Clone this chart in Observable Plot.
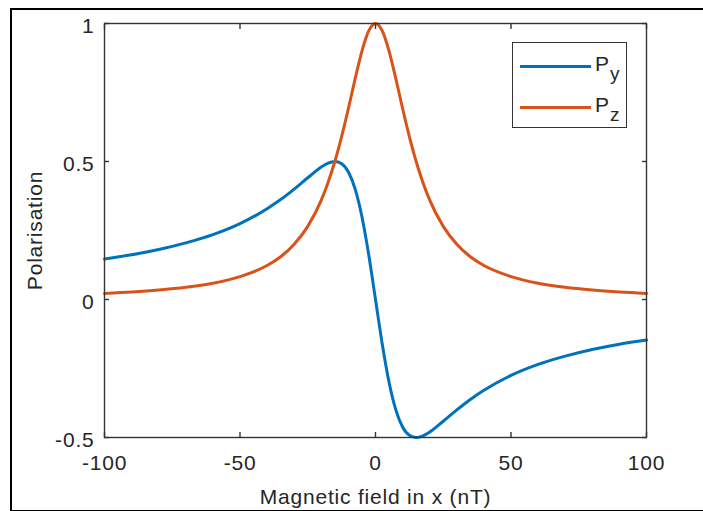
<!DOCTYPE html>
<html>
<head>
<meta charset="utf-8">
<script src="https://cdn.jsdelivr.net/npm/d3@7"></script>
<script src="https://cdn.jsdelivr.net/npm/@observablehq/plot@0.6"></script>
<style>
  html, body { margin: 0; padding: 0; background: #fff; }
  #wrap { position: relative; width: 703px; height: 511px; overflow: hidden; font-family: "Liberation Sans", Arial, sans-serif; color: #262626; }
  #outer { position: absolute; left: 10px; top: 8px; width: 740px; height: 500px; border: 2px solid #000; pointer-events: none; }
  #legend { position: absolute; left: 512px; top: 42px; width: 113px; height: 84px; border: 1.3px solid #333; background: #fff; }
  #legend .ln { position: absolute; left: 7px; width: 71px; height: 3px; }
  #legend .t { position: absolute; font-size: 21px; line-height: 21px; white-space: nowrap; }
  #legend .s { position: absolute; font-size: 19px; line-height: 19px; white-space: nowrap; }
  #chart svg text { letter-spacing: 0.8px; }
</style>
</head>
<body>
<div id="wrap">
  <div id="chart"></div>
  <div id="legend"></div>
  <div id="outer"></div>
</div>
<script>
// Magnetic field in x (nT)
const xs = [-100,-90,-80,-70,-60,-50,-40,-35,-30,-25,-20,-17.5,-15,-12.5,-10,-7.5,-5,-2.5,0,2.5,5,7.5,10,12.5,15,17.5,20,25,30,35,40,50,60,70,80,90,100];
// P_y polarisation
const py = [0.147,0.162,0.181,0.205,0.235,0.275,0.329,0.362,0.400,0.441,0.480,0.494,0.500,0.492,0.462,0.400,0.300,0.162,0,-0.162,-0.300,-0.400,-0.462,-0.492,-0.500,-0.494,-0.480,-0.441,-0.400,-0.362,-0.329,-0.275,-0.235,-0.205,-0.181,-0.162,-0.147];
// P_z polarisation
const pz = [0.022,0.027,0.034,0.044,0.059,0.083,0.123,0.155,0.200,0.265,0.360,0.424,0.500,0.590,0.692,0.800,0.900,0.973,1,0.973,0.900,0.800,0.692,0.590,0.500,0.424,0.360,0.265,0.200,0.155,0.123,0.083,0.059,0.044,0.034,0.027,0.022];
const xTicks = [-100,-50,0,50,100];
const yTicks = [-0.5,0,0.5,1];
const seriesNames = ["Py","Pz"];
const seriesColors = ["#0072BD","#D95319"];
const xLabel = "Magnetic field in x (nT)";
const yLabel = "Polarisation";

const rows = [];
xs.forEach((x, i) => {
  rows.push({x, y: py[i], s: seriesNames[0]});
  rows.push({x, y: pz[i], s: seriesNames[1]});
});

const axisColor = "#333";
const fmt = d => String(d);

const plot = Plot.plot({
  width: 703,
  height: 511,
  marginLeft: 104,
  marginTop: 23,
  marginRight: 57,
  marginBottom: 74,
  style: { fontFamily: '"Liberation Sans", Arial, sans-serif', fontSize: "21px", color: "#262626", background: "#fff" },
  x: { domain: [-100, 100] },
  y: { domain: [-0.5, 1] },
  color: { domain: seriesNames, range: seriesColors },
  marks: [
    Plot.line(rows, { x: "x", y: "y", z: "s", stroke: "s", strokeWidth: 3, curve: "monotone-x" }),
    Plot.frame({ stroke: axisColor, strokeWidth: 1.4 }),
    // labels
    Plot.axisX(xTicks, { anchor: "bottom", tickSize: 0, tickPadding: 18, tickFormat: fmt, label: null, fontSize: 21, fill: "#262626" }),
    Plot.axisY(yTicks, { anchor: "left", tickSize: 0, tickPadding: 10, tickFormat: fmt, label: null, fontSize: 21, fill: "#262626", dy: 3 }),
    // inward tick marks on all four sides
    Plot.axisX(xTicks, { anchor: "bottom", tickSize: 5, dy: -5, fill: "none", label: null, stroke: axisColor, strokeWidth: 1.4 }),
    Plot.axisX(xTicks, { anchor: "top", tickSize: 5, dy: 5, fill: "none", label: null, stroke: axisColor, strokeWidth: 1.4 }),
    Plot.axisY(yTicks, { anchor: "left", tickSize: 5, dx: 5, fill: "none", label: null, stroke: axisColor, strokeWidth: 1.4 }),
    Plot.axisY(yTicks, { anchor: "right", tickSize: 5, dx: -5, fill: "none", label: null, stroke: axisColor, strokeWidth: 1.4 }),
    // axis titles
    Plot.text([xLabel], { text: d => d, frameAnchor: "bottom", textAnchor: "middle", lineAnchor: "middle", dy: 60, fontSize: 21, fill: "#262626" }),
    Plot.text([yLabel], { text: d => d, frameAnchor: "left", textAnchor: "middle", lineAnchor: "middle", rotate: -90, dx: -69, fontSize: 21, fill: "#262626" })
  ]
});
document.getElementById("chart").appendChild(plot);

// legend
const legend = document.getElementById("legend");
const rowTops = [0, 41];
const subs = ["y", "z"];
seriesNames.forEach((name, i) => {
  const t0 = rowTops[i];
  const ln = document.createElement("div");
  ln.className = "ln";
  ln.style.top = (21.5 + t0) + "px";
  ln.style.background = seriesColors[i];
  legend.appendChild(ln);
  const p = document.createElement("span");
  p.className = "t";
  p.style.left = "82px";
  p.style.top = (10 + t0) + "px";
  p.textContent = "P";
  legend.appendChild(p);
  const s = document.createElement("span");
  s.className = "s";
  s.style.left = "97px";
  s.style.top = (21 + t0) + "px";
  s.textContent = subs[i];
  legend.appendChild(s);
});
</script>
</body>
</html>
